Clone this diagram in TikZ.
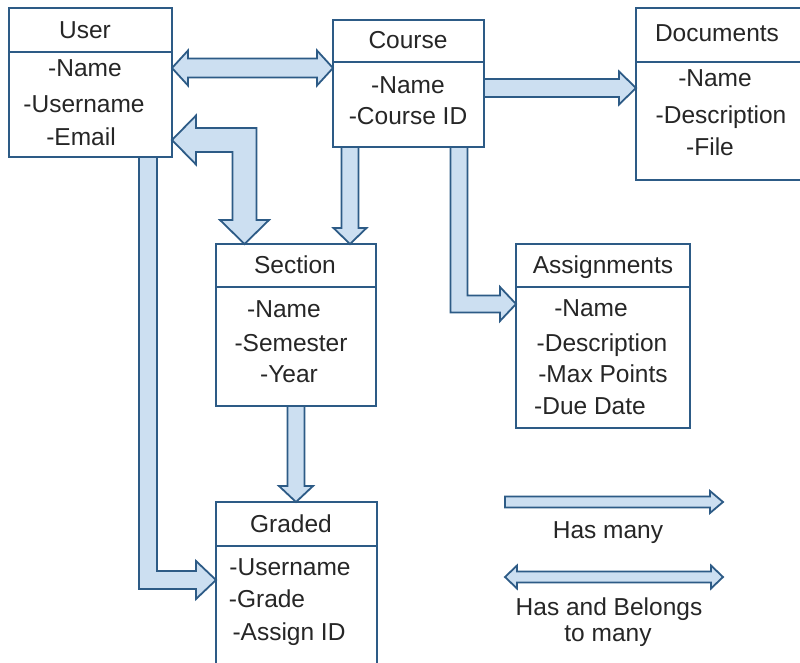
\documentclass[tikz,border=0pt]{standalone}
\usepackage{fontspec}
\setmainfont{Liberation Sans}
\usetikzlibrary{calc}
\definecolor{edge}{HTML}{2D5B86}
\definecolor{pale}{HTML}{CCDFF1}
\definecolor{ink}{HTML}{262626}

% block arrow pointing right: #1 tail, #2 tip, #3 shaft half width, #4 head half width, #5 head length
\newcommand\arrowright[5]{%
  \path[blockarrow] let \p1=(#1), \p2=(#2) in
    (\x1,\y1+#3pt) -- (\x2-#5pt,\y1+#3pt) -- (\x2-#5pt,\y1+#4pt) -- (\x2,\y1)
    -- (\x2-#5pt,\y1-#4pt) -- (\x2-#5pt,\y1-#3pt) -- (\x1,\y1-#3pt) -- cycle;}
% block arrow with a head at both ends: #1 left tip, #2 right tip
\newcommand\arrowboth[5]{%
  \path[blockarrow] let \p1=(#1), \p2=(#2) in
    (\x1,\y1) -- (\x1+#5pt,\y1+#4pt) -- (\x1+#5pt,\y1+#3pt) -- (\x2-#5pt,\y1+#3pt)
    -- (\x2-#5pt,\y1+#4pt) -- (\x2,\y1) -- (\x2-#5pt,\y1-#4pt) -- (\x2-#5pt,\y1-#3pt)
    -- (\x1+#5pt,\y1-#3pt) -- (\x1+#5pt,\y1-#4pt) -- cycle;}
% block arrow pointing down: #1 tail, #2 tip
\newcommand\arrowdown[5]{%
  \path[blockarrow] let \p1=(#1), \p2=(#2) in
    (\x1-#3pt,\y1) -- (\x1-#3pt,\y2+#5pt) -- (\x1-#4pt,\y2+#5pt) -- (\x1,\y2)
    -- (\x1+#4pt,\y2+#5pt) -- (\x1+#3pt,\y2+#5pt) -- (\x1+#3pt,\y1) -- cycle;}
% elbow block arrow, down then right: #1 tail on top, #2 tip on the right
\newcommand\arrowdownright[5]{%
  \path[blockarrow] let \p1=(#1), \p2=(#2) in
    (\x1-#3pt,\y1) -- (\x1-#3pt,\y2-#3pt) -- (\x2-#5pt,\y2-#3pt) -- (\x2-#5pt,\y2-#4pt)
    -- (\x2,\y2) -- (\x2-#5pt,\y2+#4pt) -- (\x2-#5pt,\y2+#3pt) -- (\x1+#3pt,\y2+#3pt)
    -- (\x1+#3pt,\y1) -- cycle;}
% elbow block arrow with two heads: #1 tip pointing left, #2 tip pointing down
\newcommand\arrowleftdown[5]{%
  \path[blockarrow] let \p1=(#1), \p2=(#2) in
    (\x1,\y1) -- (\x1+#5pt,\y1+#4pt) -- (\x1+#5pt,\y1+#3pt) -- (\x2+#3pt,\y1+#3pt)
    -- (\x2+#3pt,\y2+#5pt) -- (\x2+#4pt,\y2+#5pt) -- (\x2,\y2) -- (\x2-#4pt,\y2+#5pt)
    -- (\x2-#3pt,\y2+#5pt) -- (\x2-#3pt,\y1-#3pt) -- (\x1+#5pt,\y1-#3pt)
    -- (\x1+#5pt,\y1-#4pt) -- cycle;}

\begin{document}
\begin{tikzpicture}[x=1pt,y=-1pt,
  box/.style={draw=edge, fill=white, line width=1.8pt, inner sep=0, outer sep=0},
  divider/.style={draw=edge, line width=1.8pt},
  blockarrow/.style={draw=edge, fill=pale, line width=1.8pt, line join=miter},
  lbl/.style={inner sep=0, text=ink, font=\fontsize{24.5}{29}\selectfont,
              text height=17.5pt, text depth=0pt, anchor=center}]
\useasboundingbox (0,0) rectangle (800,662);
\clip (0,0) rectangle (800,662);
\fill[white] (0,0) rectangle (800,662);

% entity boxes
\node[box, minimum width=163pt, minimum height=149pt] (user)    at (90.5,82.5) {};
\node[box, minimum width=151pt, minimum height=127pt] (course)  at (408.5,83.5) {};
\node[box, minimum width=184pt, minimum height=172pt] (docs)    at (728,94) {};
\node[box, minimum width=160pt, minimum height=162pt] (section) at (296,325) {};
\node[box, minimum width=174pt, minimum height=184pt] (assign)  at (603,336) {};
\node[box, minimum width=161pt, minimum height=198pt] (graded)  at (296.5,601) {};

% header dividers
\draw[divider] (user.west |- 0,52) -- (user.east |- 0,52);
\draw[divider] (course.west |- 0,62) -- (course.east |- 0,62);
\draw[divider] (docs.west |- 0,62) -- (docs.east |- 0,62);
\draw[divider] (section.west |- 0,287) -- (section.east |- 0,287);
\draw[divider] (assign.west |- 0,287) -- (assign.east |- 0,287);
\draw[divider] (graded.west |- 0,546) -- (graded.east |- 0,546);

% User
\node[lbl] (userT) at (85,30) {User};
\node[lbl] (user1) at (85,68) {-Name};
\node[lbl] (user2) at (84,104) {-Username};
\node[lbl] (user3) at (81,137) {-Email};
% Course
\node[lbl] (courseT) at (408,40) {Course};
\node[lbl] (course1) at (408,85) {-Name};
\node[lbl] (course2) at (408,116) {-Course ID};
% Documents
\node[lbl] (docsT) at (717,33) {Documents};
\node[lbl] (docs1) at (715,78) {-Name};
\node[lbl] (docs2) at (721,115) {-Description};
\node[lbl] (docs3) at (710,147) {-File};
% Section
\node[lbl] (sectionT) at (295,265) {Section};
\node[lbl] (section1) at (284,309) {-Name};
\node[lbl] (section2) at (291,343) {-Semester};
\node[lbl] (section3) at (289,374) {-Year};
% Assignments
\node[lbl] (assignT) at (603,265) {Assignments};
\node[lbl] (assign1) at (591,308) {-Name};
\node[lbl] (assign2) at (602,343) {-Description};
\node[lbl] (assign3) at (603,374) {-Max Points};
\node[lbl] (assign4) at (590,406) {-Due Date};
% Graded
\node[lbl] (gradedT) at (291,524) {Graded};
\node[lbl] (graded1) at (290,567) {-Username};
\node[lbl] (graded2) at (267,599) {-Grade};
\node[lbl] (graded3) at (289,632) {-Assign ID};

% connector end points
\coordinate (uc1) at (user.east |- 0,68);
\coordinate (uc2) at (course.west |- 0,68);
\coordinate (cd1) at (course.east |- 0,88);
\coordinate (cd2) at (docs.west |- 0,88);
\coordinate (cs1) at (course.south -| 350,0);
\coordinate (cs2) at (section.north -| 350,0);
\coordinate (ca1) at (course.south -| 459,0);
\coordinate (ca2) at (assign.west |- 0,304);
\coordinate (us1) at (user.east |- 0,140);
\coordinate (us2) at (section.north -| 244.5,0);
\coordinate (sg1) at (section.south -| 296,0);
\coordinate (sg2) at (graded.north -| 296,0);
\coordinate (ug1) at (user.south -| 148,0);
\coordinate (ug2) at (graded.west |- 0,580);

% connectors
\arrowboth{uc1}{uc2}{9.5}{17.5}{16}
\arrowright{cd1}{cd2}{9}{16.5}{17}
\arrowdown{cs1}{cs2}{8.5}{16.5}{16}
\arrowdownright{ca1}{ca2}{8.5}{17}{16}
\arrowleftdown{us1}{us2}{12}{24.5}{24}
\arrowdown{sg1}{sg2}{8.5}{17}{16}
\arrowdownright{ug1}{ug2}{9}{19}{20}

% legend
\coordinate (hm1) at (505,502);
\coordinate (hm2) at (723,502);
\coordinate (hb1) at (505,577);
\coordinate (hb2) at (723,577);
\arrowright{hm1}{hm2}{5.5}{11}{13}
\arrowboth{hb1}{hb2}{5.5}{11.5}{12}
\node[lbl] (hmT) at (608,530) {Has many};
\node[lbl] (hbT1) at (609,607) {Has and Belongs};
\node[lbl] (hbT2) at (608,633) {to many};
\end{tikzpicture}
\end{document}
